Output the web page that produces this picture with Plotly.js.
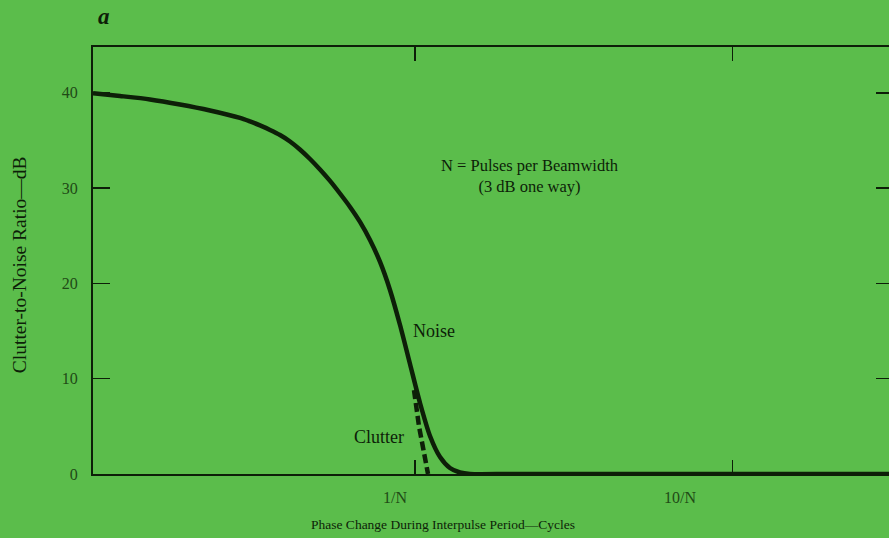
<!DOCTYPE html>
<html>
<head>
<meta charset="utf-8">
<script src="https://cdn.plot.ly/plotly-3.0.1.min.js"></script>
<style>
html, body { margin:0; padding:0; overflow:hidden; background:#5bbd4b; }
#chart { width:900px; height:538px; }
</style>
</head>
<body>
<div id="chart"></div>
<script>
// Phase change in multiples of 1/N (log axis)
const noisePhase = [0.0968, 0.1177, 0.1463, 0.1819, 0.2261, 0.2811, 0.3021, 0.3249, 0.3494, 0.3757, 0.4040, 0.4340, 0.4670, 0.5021, 0.5399, 0.5803, 0.6242, 0.6710, 0.7215, 0.7760, 0.8341, 0.8970, 0.9644, 1.0369, 1.1149, 1.1990, 1.2887, 1.3860, 1.4903, 2, 5, 10, 20, 32];
const noiseDB    = [39.95, 39.66, 39.30, 38.77, 38.14, 37.36, 36.99, 36.57, 36.10, 35.57, 34.89, 34.05, 33.05, 31.95, 30.75, 29.43, 28.02, 26.45, 24.55, 22.25, 19.31, 15.63, 11.54, 7.45, 3.99, 1.78, 0.63, 0.16, 0, 0, 0, 0, 0, 0];
const clutterPhase = [0.9928, 1.0294, 1.099];
const clutterDB    = [8.8, 5.0, 0];
const xTickVals = [1, 10];
const xLabelVals = [0.865, 6.83];
const xTickText = ["1/N", "10/N"];
const yTickVals = [0, 10, 20, 30, 40];

const ink = "#0d1f08";
const labelInk = "#1f4a16";
const serif = "Liberation Serif, DejaVu Serif, serif";
const xRange = [-1.0142, 1.5055];

const traces = [
  { x: noisePhase, y: noiseDB, type: "scatter", mode: "lines", name: "Noise",
    line: { color: ink, width: 4.5, shape: "spline", smoothing: 0.7 } },
  { x: clutterPhase, y: clutterDB, type: "scatter", mode: "lines", name: "Clutter",
    line: { color: ink, width: 4.5, dash: "9px,4px" } },
  { x: [], y: [], xaxis: "x2", yaxis: "y", type: "scatter", mode: "lines", showlegend: false }
];

const layout = {
  width: 900, height: 538,
  paper_bgcolor: "#5bbd4b", plot_bgcolor: "#5bbd4b",
  margin: { l: 93, r: 7, t: 47, b: 64 },
  showlegend: false,
  font: { family: serif, color: labelInk, size: 16 },
  xaxis: {
    type: "log", range: xRange,
    tickmode: "array", tickvals: xTickVals, ticktext: xTickText, showticklabels: false,
    ticks: "inside", ticklen: 14, tickwidth: 1.5, tickcolor: ink,
    showline: true, linecolor: ink, linewidth: 2, mirror: "ticks",
    showgrid: false, zeroline: false
  },
  xaxis2: {
    type: "log", range: xRange, overlaying: "x", anchor: "y", side: "bottom",
    tickmode: "array", tickvals: xLabelVals, ticktext: xTickText,
    ticks: "", showline: false, showgrid: false, zeroline: false, ticklabelstandoff: 12,
    tickfont: { family: serif, size: 16, color: labelInk }
  },
  yaxis: {
    range: [0, 44.8],
    tickmode: "array", tickvals: yTickVals,
    ticks: "inside", ticklen: 17, tickwidth: 1.5, tickcolor: ink,
    showline: true, linecolor: ink, linewidth: 2, mirror: "ticks",
    showgrid: false, zeroline: false, ticklabelstandoff: 10,
    tickfont: { family: serif, size: 16, color: labelInk }
  },
  annotations: [
    { text: "<i><b>a</b></i>", xref: "paper", yref: "paper", x: 0.0, y: 1.0, xanchor: "center", yanchor: "middle",
      xshift: 11, yshift: 31, showarrow: false, font: { family: serif, size: 23, color: ink } },
    { text: "Clutter-to-Noise Ratio—dB", xref: "paper", yref: "paper", x: 0, y: 0.489, xshift: -74,
      xanchor: "center", yanchor: "middle",
      textangle: -90, showarrow: false, font: { family: serif, size: 19.5, color: ink } },
    { text: "Phase Change During Interpulse Period—Cycles", xref: "paper", yref: "paper",
      x: 0.4375, y: 0, yshift: -50, yanchor: "middle", showarrow: false, font: { family: serif, size: 13.5, color: ink } },
    { text: "N = Pulses per Beamwidth<br>(3 dB one way)", xref: "x", yref: "y",
      x: Math.log10(2.302), y: 31.3, showarrow: false, align: "center",
      font: { family: serif, size: 16.5, color: ink } },
    { text: "Noise", xref: "x", yref: "y", x: Math.log10(1.148), y: 15.0, showarrow: false,
      font: { family: serif, size: 18, color: ink } },
    { text: "Clutter", xref: "x", yref: "y", x: Math.log10(0.770), y: 3.9, showarrow: false,
      font: { family: serif, size: 18, color: ink } }
  ]
};

Plotly.newPlot("chart", traces, layout, { displayModeBar: false, staticPlot: true });
</script>
</body>
</html>
